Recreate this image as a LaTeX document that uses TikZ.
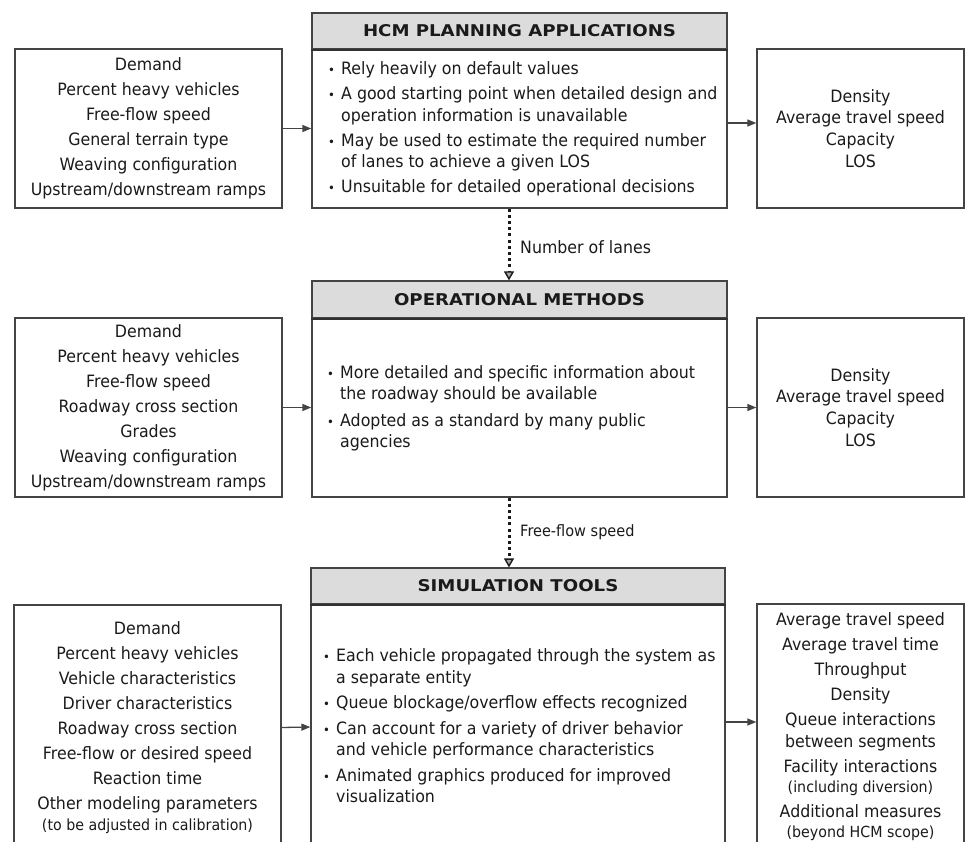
\documentclass[tikz,border=0pt]{standalone}
\usepackage{fontspec}
\setmainfont{DejaVu Sans}[FakeStretch=0.93]
\newfontfamily\titlefont{DejaVu Sans}[FakeStretch=1.12]
\usetikzlibrary{arrows.meta}
\definecolor{edge}{HTML}{444444}
\definecolor{bandfill}{HTML}{DCDCDC}
\definecolor{ink}{HTML}{1A1A1A}
\newcommand{\bul}{\makebox[13pt][l]{{\fontsize{12.5}{12}\selectfont •}}}
\newcommand{\ind}{\hspace*{13pt}}
\begin{document}
\begin{tikzpicture}[x=1pt,y=-1pt,
  box/.style={draw=edge, line width=1.3pt, fill=white, inner sep=0pt, text=ink, align=center},
  band/.style={draw=edge, line width=1.3pt, fill=bandfill, inner sep=0pt, text=ink, font=\titlefont\bfseries\fontsize{16.2}{16}\selectfont},
  sepline/.style={draw=ink!90, line width=2.2pt},
  lft/.style={font=\fontsize{17}{25}\selectfont},
  rgt/.style={font=\fontsize{17}{21.7}\selectfont},
  bt/.style={align=left, inner sep=0pt, text=ink, font=\fontsize{17}{21.5}\selectfont},
  lab/.style={inner sep=0pt, text=ink, anchor=west},
  arr/.style={draw=edge, line width=1.3pt, -{Triangle[length=9pt,width=7pt]}},
  dotarr/.style={draw=ink, line width=3pt, dash pattern=on 3pt off 3.2pt,
     -{Triangle[length=9pt,width=10pt,line width=1.4pt,fill=gray!70]}}
]
\useasboundingbox (0,0) rectangle (967,842);
\clip (0,0) rectangle (967,842);
\fill[white] (0,0) rectangle (967,842);

% ---------- row 1 ----------
\node[box, lft, minimum width=267pt, minimum height=159pt] (in1) at (148.5,128.5)
  {Demand\\Percent heavy vehicles\\Free-flow speed\\General terrain type\\Weaving configuration\\Upstream/downstream ramps};
\node[band, minimum width=415pt, minimum height=36pt] (hcmt) at (519.5,31) {HCM PLANNING APPLICATIONS};
\node[box, minimum width=415pt, minimum height=159pt] (hcmb) at (519.5,128.5) {};
\draw[sepline] (hcmt.south west) -- (hcmt.south east);
\node[bt, anchor=west] (hcmtx) at (328,129)
  {\bul Rely heavily on default values\\[3.5pt]
   \bul A good starting point when detailed design and\\
   \ind operation information is unavailable\\[3.5pt]
   \bul May be used to estimate the required number\\
   \ind of lanes to achieve a given LOS\\[3.5pt]
   \bul Unsuitable for detailed operational decisions};
\node[box, rgt, minimum width=207pt, minimum height=159pt] (out1) at (860.5,128.5)
  {Density\\Average travel speed\\Capacity\\LOS};

% ---------- row 2 ----------
\node[box, lft, minimum width=267pt, minimum height=179pt] (in2) at (148.5,407.5)
  {Demand\\Percent heavy vehicles\\Free-flow speed\\Roadway cross section\\Grades\\Weaving configuration\\Upstream/downstream ramps};
\node[band, minimum width=415pt, minimum height=37pt] (opt) at (519.5,299.5) {OPERATIONAL METHODS};
\node[box, minimum width=415pt, minimum height=179pt] (opb) at (519.5,407.5) {};
\draw[sepline] (opt.south west) -- (opt.south east);
\node[bt, anchor=west] (optx) at (327,408.5)
  {\bul More detailed and specific information about\\
   \ind the roadway should be available\\[5pt]
   \bul Adopted as a standard by many public\\
   \ind agencies};
\node[box, rgt, minimum width=207pt, minimum height=179pt] (out2) at (860.5,407.5)
  {Density\\Average travel speed\\Capacity\\LOS};

% ---------- row 3 ----------
\node[box, lft, minimum width=267pt, minimum height=245pt] (in3) at (147.5,727.5)
  {Demand\\Percent heavy vehicles\\Vehicle characteristics\\Driver characteristics\\Roadway cross section\\Free-flow or desired speed\\Reaction time\\Other modeling parameters\\[-4pt]
   {\fontsize{15.3}{18}\selectfont (to be adjusted in calibration)}};
\node[band, minimum width=414pt, minimum height=36pt] (simt) at (518,586) {SIMULATION TOOLS};
\node[box, minimum width=414pt, minimum height=246pt] (simb) at (518,727) {};
\draw[sepline] (simt.south west) -- (simt.south east);
\node[bt, anchor=west] (simtx) at (323,726)
  {\bul Each vehicle propagated through the system as\\
   \ind a separate entity\\[4pt]
   \bul Queue blockage/overflow effects recognized\\[4pt]
   \bul Can account for a variety of driver behavior\\
   \ind and vehicle performance characteristics\\[4pt]
   \bul Animated graphics produced for improved\\
   \ind visualization};
\node[box, lft, minimum width=207pt, minimum height=246pt] (out3) at (860.5,727)
  {Average travel speed\\Average travel time\\Throughput\\Density\\Queue interactions\\[-3pt]between segments\\Facility interactions\\[-5pt]
   {\fontsize{15.3}{18}\selectfont (including diversion)}\\Additional measures\\[-5pt]
   {\fontsize{15.3}{18}\selectfont (beyond HCM scope)}};

% ---------- connectors ----------
\draw[arr] (in1.east) -- (hcmb.west);
\draw[arr] ([yshift=5.5pt]hcmb.east) -- ([yshift=5.5pt]out1.west);
\draw[arr] (in2.east) -- (opb.west);
\draw[arr] (opb.east) -- (out2.west);
\draw[arr] (in3.east) -- (simb.west);
\draw[arr] ([yshift=5pt]simb.east) -- ([yshift=5pt]out3.west);

\draw[dotarr] ([xshift=-10.5pt]hcmb.south) -- ([xshift=-10.5pt]opt.north);
\draw[dotarr] ([xshift=-10.5pt]opb.south) -- ([xshift=-9pt]simt.north);
\node[lab, font=\fontsize{17}{18}\selectfont] (lanes) at (520,247) {Number of lanes};
\node[lab, font=\fontsize{15.6}{17}\selectfont] (ffs) at (520,532) {Free-flow speed};
\end{tikzpicture}
\end{document}
